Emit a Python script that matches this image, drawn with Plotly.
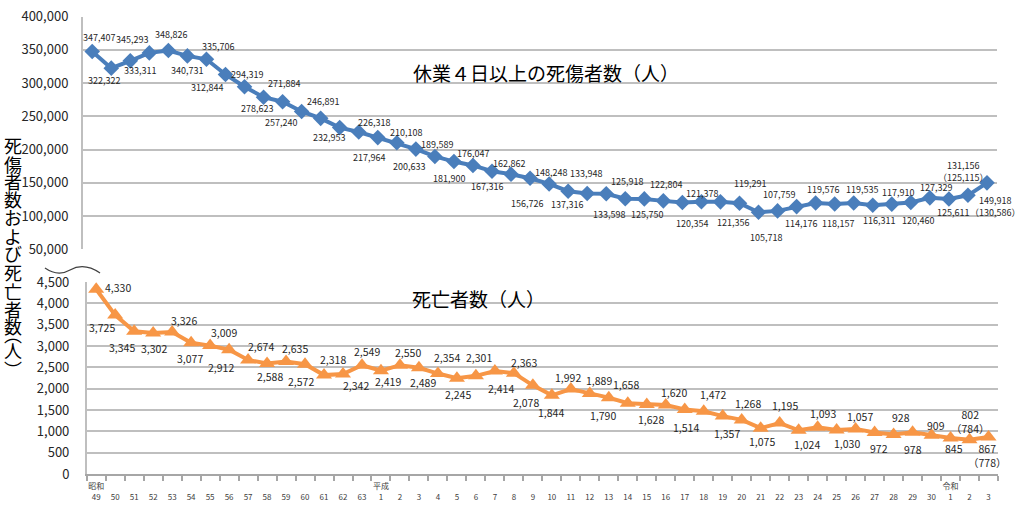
import plotly.graph_objects as go

# ---------------- data ----------------
years = list(range(1974, 2022))
tick_numbers = ["49", "50", "51", "52", "53", "54", "55", "56", "57", "58", "59", "60",
                "61", "62", "63",
                "1", "2", "3", "4", "5", "6", "7", "8", "9", "10", "11", "12", "13", "14",
                "15", "16", "17", "18", "19", "20", "21", "22", "23", "24", "25", "26",
                "27", "28", "29", "30",
                "1", "2", "3"]
era_marks = {1974: "昭和", 1989: "平成", 2019: "令和"}

injuries = [347407, 322322, 333311, 345293, 348826, 340731, 335706, 312844, 294319,
            278623, 271884, 257240, 246891, 232953, 226318,
            217964, 210108, 200633, 189589, 181900, 176047, 167316, 162862, 156726,
            148248, 137316, 133948, 133598, 125918, 125750, 122804, 120354, 121378,
            121356, 119291, 105718, 107759, 114176, 119576, 118157, 119535, 116311,
            117910, 120460, 127329,
            125611, 131156, 149918]
injuries_alt = [None] * 46 + [125115, 130586]

deaths = [4330, 3725, 3345, 3302, 3326, 3077, 3009, 2912, 2674, 2588, 2635, 2572,
          2318, 2342, 2549,
          2419, 2550, 2489, 2354, 2245, 2301, 2414, 2363, 2078, 1844, 1992, 1889,
          1790, 1658, 1628, 1620, 1514, 1472, 1357, 1268, 1075, 1195, 1024, 1093,
          1030, 1057, 972, 928, 978, 909,
          845, 802, 867]
deaths_alt = [None] * 46 + [784, 778]

top_ticks = [50000, 100000, 150000, 200000, 250000, 300000, 350000, 400000]
bottom_ticks = [0, 500, 1000, 1500, 2000, 2500, 3000, 3500, 4000, 4500]

# ---------------- label placement (pixel offsets from each marker) ----------------
top_label_offset = [
    (7, 14), (-7, -12), (10, -10), (-17, 13), (3, 16), (0, -15), (12, 13), (-18, -13),
    (2, 12), (-7, -11), (1, 18), (-21, -11), (2, 17), (-11, -10), (15, 10),
    (-9, -20), (9, 10), (-7, -17), (2, 12), (-5, -17), (0, 12), (-5, -15), (-2, 11),
    (-3, -25), (2, 11), (-1, -13), (-1, 20), (3, -21), (2, 17), (3, -16), (3, 16),
    (10, -21), (1, 8), (13, -21), (11, 20), (7, -25), (1, 16), (4, -17), (7, 14),
    (3, -20), (8, 14), (6, -15), (6, 12), (7, -18), (6, 10),
    (4, -13), (-5, 24), (8, -24)]
bottom_label_offset = [
    (22, 2), (-13, -12), (-12, -16), (1, -15), (12, 12), (-1, -16), (14, 13), (-8, -18),
    (13, 13), (3, -13), (9, 13), (-4, -17), (9, 16), (13, -11), (5, 14),
    (7, -11), (8, 13), (4, -15), (9, 16), (1, -16), (3, 18), (6, -17), (10, 11),
    (-7, -17), (-1, -17), (-3, 12), (9, 13), (-6, -18), (-2, 19), (4, -15), (8, 12),
    (1, -18), (9, 17), (4, -17), (6, 16), (1, -13), (5, 18), (8, -14), (5, 14),
    (10, -13), (4, 12), (4, -16), (7, 17), (0, -17), (4, 10),
    (3, -11), (0, 18), (-2, -18)]

# ---------------- style ----------------
W, H = 1024, 517
BLUE = "#4A7EBB"
ORANGE = "#F79646"
GRID = "#BFBFBF"
FONT = "Noto Sans CJK JP"
TXT = "#262626"


def px(x):
    return x / W


def py(y):
    return 1 - y / H


fig = go.Figure()

fig.add_trace(go.Scatter(
    x=years, y=injuries, mode="lines+markers", xaxis="x", yaxis="y",
    line=dict(color=BLUE, width=4),
    marker=dict(symbol="diamond", size=12, color=BLUE),
    cliponaxis=False, hoverinfo="x+y", showlegend=False))

fig.add_trace(go.Scatter(
    x=years, y=deaths, mode="lines+markers", xaxis="x2", yaxis="y2",
    line=dict(color=ORANGE, width=4),
    marker=dict(symbol="triangle-up", size=14, color=ORANGE),
    cliponaxis=False, hoverinfo="x+y", showlegend=False))

annotations = []

for i, (yr, v) in enumerate(zip(years, injuries)):
    txt = f"{v:,}"
    if injuries_alt[i] is not None:
        txt += f"<br>（{injuries_alt[i]:,}）"
    xs, ys = top_label_offset[i]
    annotations.append(dict(x=yr, y=v, xref="x", yref="y", text=txt, showarrow=False,
                            xanchor="center", yanchor="middle",
                            yshift=ys, xshift=xs,
                            font=dict(family=FONT, size=9, color=TXT)))

for i, (yr, v) in enumerate(zip(years, deaths)):
    txt = f"{v:,}"
    if deaths_alt[i] is not None:
        txt += f"<br>（{deaths_alt[i]:,}）"
    xs, ys = bottom_label_offset[i]
    annotations.append(dict(x=yr, y=v, xref="x2", yref="y2", text=txt, showarrow=False,
                            xanchor="center", yanchor="middle",
                            yshift=ys, xshift=xs,
                            font=dict(family=FONT, size=10.5, color=TXT)))

# titles inside panels
annotations.append(dict(x=px(546), y=py(73), xref="paper", yref="paper",
                        xanchor="center", yanchor="middle",
                        text="休業４日以上の死傷者数（人）", showarrow=False,
                        font=dict(family=FONT, size=19, color="#000000")))
annotations.append(dict(x=px(478), y=py(298), xref="paper", yref="paper",
                        xanchor="center", yanchor="middle",
                        text="死亡者数（人）", showarrow=False,
                        font=dict(family=FONT, size=19, color="#000000")))

# vertical y-axis title
vchars = ["死", "傷", "者", "数", "お", "よ", "び", "死", "亡", "者", "数", "︵", "人", "︶"]
vpos = [145, 164, 181, 199, 217, 236, 253, 272, 291, 309, 326, 334, 350, 369]
for ch, yy in zip(vchars, vpos):
    annotations.append(dict(x=px(13), y=py(yy), xref="paper", yref="paper", text=ch,
                            showarrow=False, xanchor="center", yanchor="middle",
                            font=dict(family=FONT, size=18, color="#000000")))

ticktext = []
for yr, t in zip(years, tick_numbers):
    ticktext.append((era_marks[yr] if yr in era_marks else "") + "<br>" + t)

top_l, top_r = 82.7, 996.5
bot_l, bot_r = 86.7, 998.0

fig.update_layout(
    width=W, height=H, autosize=False,
    margin=dict(l=0, r=0, t=0, b=0, pad=0, autoexpand=False),
    paper_bgcolor="white", plot_bgcolor="white",
    font=dict(family=FONT, color=TXT),
    xaxis=dict(domain=[px(top_l), px(top_r)], range=[1973.5, 2021.5],
               showticklabels=False, showgrid=False, zeroline=False, showline=False,
               automargin=False, anchor="y"),
    yaxis=dict(domain=[py(249.3), py(16.5)], range=[50000, 400000],
               tickvals=top_ticks, tickformat=",", showgrid=True, gridcolor=GRID,
               gridwidth=1.5, zeroline=False, showline=True, linecolor=GRID,
               linewidth=1.5, ticks="", ticklabelstandoff=10, automargin=False,
               ticklabeloverflow="allow",
               tickfont=dict(family=FONT, size=13, color=TXT), anchor="x"),
    xaxis2=dict(domain=[px(bot_l), px(bot_r)], range=[1973.5, 2021.5],
                tickmode="array", tickvals=years, ticktext=ticktext,
                tickfont=dict(family=FONT, size=8, color="#404040"),
                ticks="", showgrid=False, zeroline=False, showline=True,
                linecolor="#A6A6A6", linewidth=1.5, tickangle=0, automargin=False,
                ticklabelstandoff=4, ticklabeloverflow="allow",
                minor=dict(ticks="outside", tick0=1973.5, dtick=1, ticklen=5,
                           tickcolor="#A6A6A6", tickwidth=1.5, showgrid=False),
                anchor="y2"),
    yaxis2=dict(domain=[py(474), py(282)], range=[0, 4500],
                tickvals=bottom_ticks, tickformat=",", showgrid=True, gridcolor=GRID,
                gridwidth=1.5, zeroline=False, showline=True, linecolor=GRID,
                linewidth=1.5, ticks="", ticklabelstandoff=13, automargin=False,
                ticklabeloverflow="allow",
                tickfont=dict(family=FONT, size=13, color=TXT), anchor="x2"),
    annotations=annotations,
    showlegend=False,
)

# axis break mark (wavy line)
p = [(45, 268), (58, 277), (70, 270), (84, 262), (100, 273)]
path = "M {:.4f},{:.4f} Q {:.4f},{:.4f} {:.4f},{:.4f} Q {:.4f},{:.4f} {:.4f},{:.4f}".format(
    *[c for xy in p for c in (px(xy[0]), py(xy[1]))])
fig.add_shape(type="path", path=path, xref="paper", yref="paper",
              line=dict(color="#404040", width=1.2))

fig.write_html("out.html",
               config={"displayModeBar": False},
               post_script="document.body.style.margin='0';document.body.style.overflow='hidden';")
